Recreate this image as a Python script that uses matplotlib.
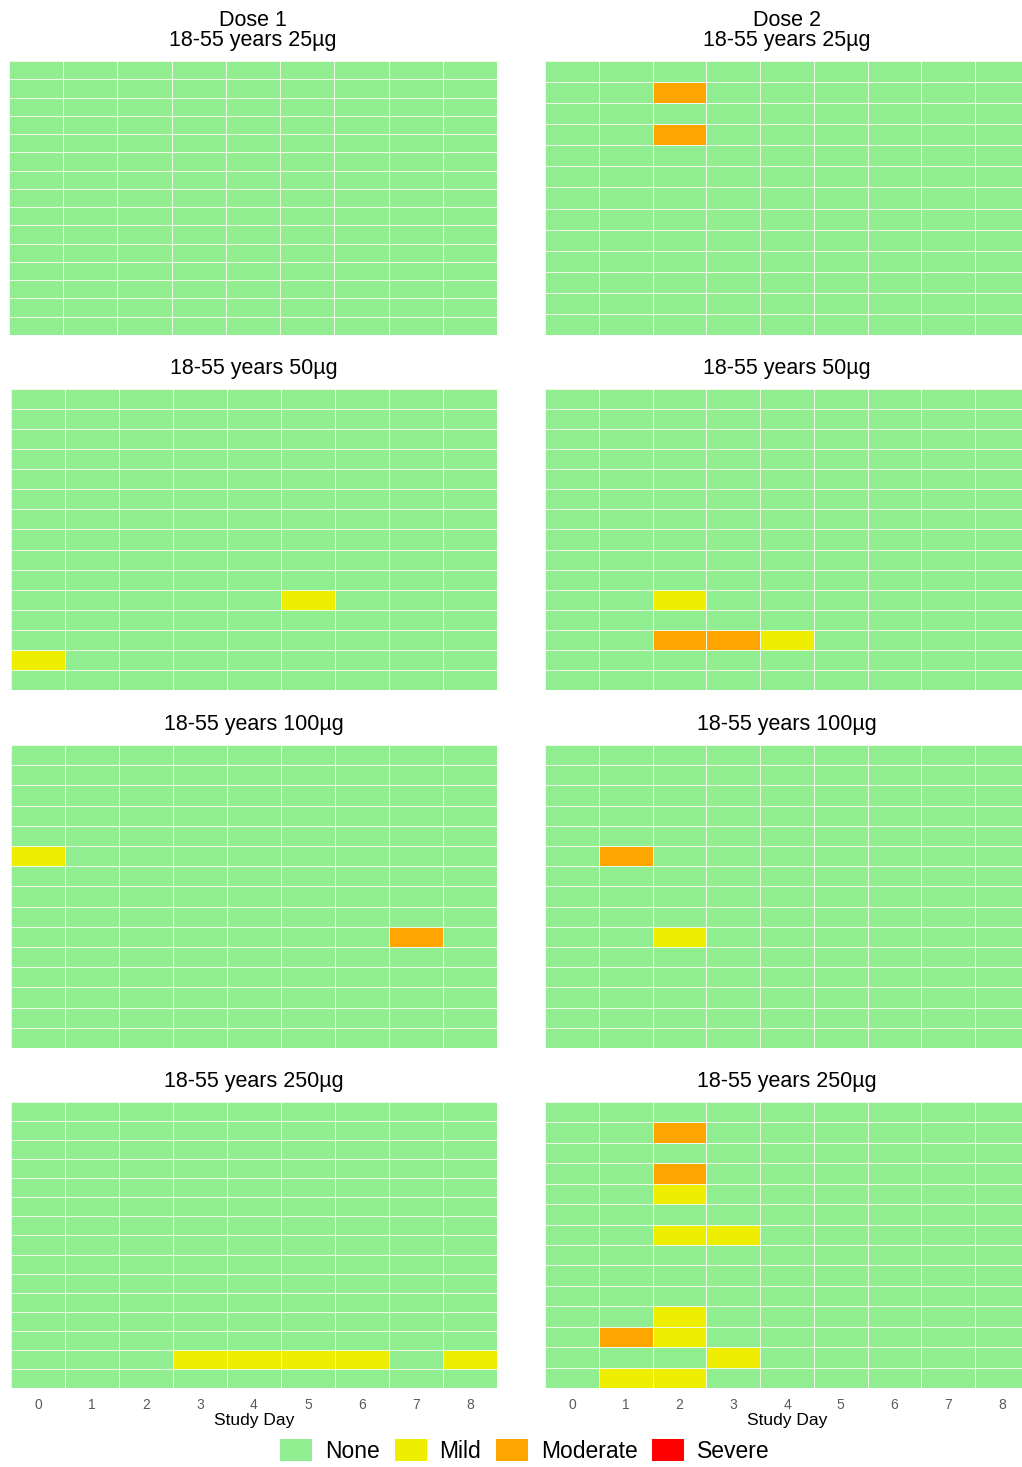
import numpy as np
import matplotlib
matplotlib.use("Agg")
import matplotlib.pyplot as plt
from matplotlib.colors import ListedColormap, BoundaryNorm
from matplotlib.patches import Patch

plt.rcParams['font.family'] = ['Liberation Sans', 'DejaVu Sans']

# ---- data ----
days = [0, 1, 2, 3, 4, 5, 6, 7, 8]
severity_levels = ["None", "Mild", "Moderate", "Severe"]
severity_colors = ["#90EE90", "#EEEE00", "#FFA500", "#FF0000"]

panel_titles = ["Dose 1\n18-55 years 25µg", "Dose 2\n18-55 years 25µg",
                "18-55 years 50µg", "18-55 years 50µg",
                "18-55 years 100µg", "18-55 years 100µg",
                "18-55 years 250µg", "18-55 years 250µg"]
# number of participants (rows) per panel
panel_rows = [15, 13, 15, 15, 15, 15, 15, 14]
# events: (row from top, 1-based; study day; severity 1=Mild 2=Moderate 3=Severe)
d1_25 = []
d2_25 = [(2, 2, 2), (4, 2, 2)]
d1_50 = [(11, 5, 1), (14, 0, 1)]
d2_50 = [(11, 2, 1), (13, 2, 2), (13, 3, 2), (13, 4, 1)]
d1_100 = [(6, 0, 1), (10, 7, 2)]
d2_100 = [(6, 1, 2), (10, 2, 1)]
d1_250 = [(14, 3, 1), (14, 4, 1), (14, 5, 1), (14, 6, 1), (14, 8, 1)]
d2_250 = [(2, 2, 2), (4, 2, 2), (5, 2, 1), (7, 2, 1), (7, 3, 1),
          (11, 2, 1), (12, 1, 2), (12, 2, 1), (13, 3, 1), (14, 1, 1), (14, 2, 1)]
panel_events = [d1_25, d2_25, d1_50, d2_50, d1_100, d2_100, d1_250, d2_250]

# ---- layout (pixel boxes) ----
W, H = 1022, 1467
col_boxes = [(9, 497), (545, 1029)]
row_boxes = [(61, 335), (389, 690), (745, 1048), (1102, 1388)]

fig = plt.figure(figsize=(W / 100, H / 100), dpi=100)
cmap = ListedColormap(severity_colors)
norm = BoundaryNorm([-0.5, 0.5, 1.5, 2.5, 3.5], cmap.N)

for i in range(8):
    r, c = divmod(i, 2)
    x0, x1 = col_boxes[c]
    t, b = row_boxes[r]
    if r > 0 and c == 0:
        x0 = 11
    ax = fig.add_axes([x0 / W, 1 - b / H, (x1 - x0) / W, (b - t) / H])
    n = panel_rows[i]
    grid = np.zeros((n, len(days)))
    for (row, day, sev) in panel_events[i]:
        grid[row - 1, days.index(day)] = sev
    xe = np.arange(len(days) + 1) - 0.5
    ye = np.arange(n + 1) + 0.5
    ax.pcolormesh(xe, ye, grid, cmap=cmap, norm=norm,
                  edgecolors="#EEF9E8", linewidth=0.5)
    ax.set_xlim(-0.5, len(days) - 0.5)
    ax.set_ylim(n + 0.5, 0.5)
    ax.set_yticks([])
    for s in ax.spines.values():
        s.set_visible(False)
    ax.set_title(panel_titles[i], fontsize=15.5, pad=10.5, linespacing=0.98)
    if r == 3:
        ax.set_xticks(days)
        ax.set_xticklabels([str(d) for d in days], fontsize=10, color="#5a5a5a")
        ax.tick_params(axis="x", length=0, pad=7)
        ax.set_xlabel("Study Day", fontsize=12.5, labelpad=1)
    else:
        ax.set_xticks([])

handles = [Patch(facecolor=col, edgecolor="none", label=lab)
           for col, lab in zip(severity_colors, severity_levels)]
fig.legend(handles=handles, loc="center", bbox_to_anchor=(525 / W, 1 - 1451 / H),
           ncol=4, frameon=False, fontsize=16.5, handlelength=1.4, handleheight=1.05,
           handletextpad=0.55, columnspacing=0.65, borderpad=0.2)

fig.savefig("out.png", dpi=100)
